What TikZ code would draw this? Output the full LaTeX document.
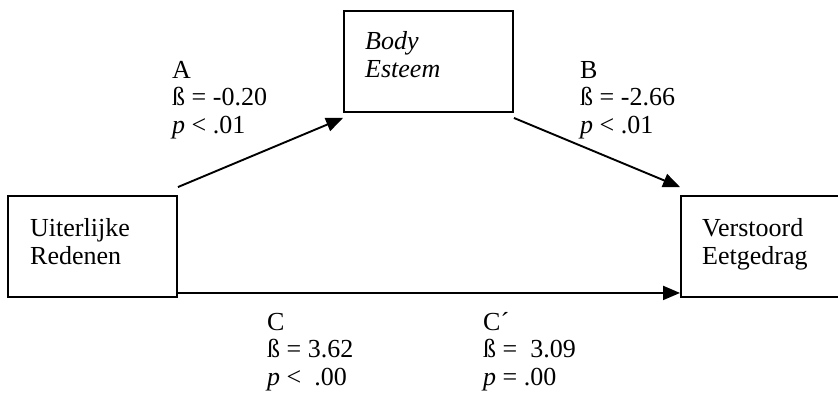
\documentclass[tikz,border=0pt]{standalone}
\usepackage{fontspec}
\setmainfont{Liberation Serif}
\usetikzlibrary{arrows.meta,calc}
\begin{document}
\begin{tikzpicture}[x=1pt,y=-1pt,
  box/.style={draw,line width=1.9pt,minimum width=169pt,minimum height=101pt,inner sep=0pt},
  boxtext/.style={anchor=base west,inner sep=0pt,align=left,font=\fontsize{26}{28}\selectfont},
  lab/.style={anchor=base west,inner sep=0pt,align=left,font=\fontsize{26}{27.5}\selectfont},
  arr/.style={line width=1.9pt,-{Triangle[length=17pt,width=14pt]}}]
\useasboundingbox (0,0) rectangle (838,394);
\node[box] (L) at (92.5,246.5) {};
\node[box] (M) at (428.5,61.5) {};
\node[box] (R) at (765.5,246.5) {};
\node[boxtext] (Lt) at (30,264) {Uiterlijke\\Redenen};
\node[boxtext] (Mt) at (365,77) {\itshape Body\\\itshape Esteem};
\node[boxtext] (Rt) at (702,264) {Verstoord\\Eetgedrag};
\draw[arr] ($(L.north east)+(0,-8)$) -- ($(M.south west)+(0,5)$);
\draw[arr] ($(M.south east)+(0,5)$) -- ($(R.north west)+(0,-8)$);
\draw[arr] ($(L.south east)+(0,-5)$) -- ($(R.south west)+(0,-5)$);
\node[lab] (la) at (172,133) {A\\ß = -0.20\\\textit{p} < .01};
\node[lab] (lb) at (580,133) {B\\ß = -2.66\\\textit{p} < .01};
\node[lab] (lc) at (267,385) {C\\ß = 3.62\\\textit{p} < \ .00};
\node[lab] (lcp) at (483,385) {C´\\ß = \ 3.09\\\textit{p} = .00};
\end{tikzpicture}
\end{document}
